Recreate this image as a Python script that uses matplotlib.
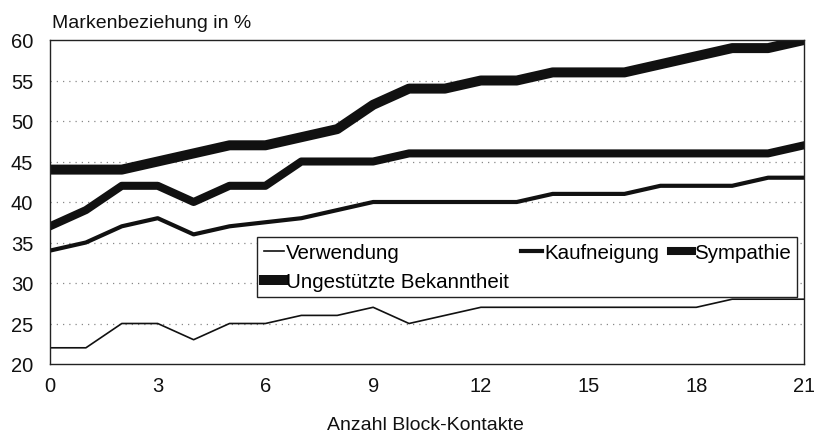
import matplotlib
matplotlib.use("Agg")
import matplotlib.pyplot as plt

plt.rcParams['font.family'] = ['Liberation Sans', 'DejaVu Sans']

kontakte = list(range(0, 22))
verwendung = [22, 22, 25, 25, 23, 25, 25, 26, 26, 27, 25, 26, 27, 27, 27, 27, 27, 27, 27, 28, 28, 28]
kaufneigung = [34, 35, 37, 38, 36, 37, 37.5, 38, 39, 40, 40, 40, 40, 40, 41, 41, 41, 42, 42, 42, 43, 43]
sympathie = [37, 39, 42, 42, 40, 42, 42, 45, 45, 45, 46, 46, 46, 46, 46, 46, 46, 46, 46, 46, 46, 47]
bekanntheit = [44, 44, 44, 45, 46, 47, 47, 48, 49, 52, 54, 54, 55, 55, 56, 56, 56, 57, 58, 59, 59, 60]

series_labels = ["Verwendung", "Kaufneigung", "Sympathie", "Ungestützte Bekanntheit"]
x_ticks = [0, 3, 6, 9, 12, 15, 18, 21]
y_ticks = [20, 25, 30, 35, 40, 45, 50, 55, 60]

fig = plt.figure(figsize=(8.14, 4.35), dpi=100)
ax = fig.add_axes([50/814, 70/435, 754/814, 324/435])

l1, = ax.plot(kontakte, verwendung, color='#111111', lw=1.2, solid_joinstyle='round')
l2, = ax.plot(kontakte, kaufneigung, color='#111111', lw=3.0, solid_joinstyle='round')
l3, = ax.plot(kontakte, sympathie, color='#111111', lw=5.8, solid_joinstyle='round')
l4, = ax.plot(kontakte, bekanntheit, color='#111111', lw=7.2, solid_joinstyle='round')

ax.set_xlim(0, 21)
ax.set_ylim(20, 60)
ax.set_xticks(x_ticks)
ax.set_yticks(y_ticks)
ax.tick_params(length=0, labelsize=14.5, colors='#111111')
ax.tick_params(axis='x', pad=8.5)
ax.tick_params(axis='y', pad=12)
for s in ax.spines.values():
    s.set_color('#222222')
    s.set_linewidth(1.0)
for yv in y_ticks[1:-1]:
    ax.axhline(yv, color='#888888', lw=0.9, ls=(0, (1, 4)), zorder=0)

leg = ax.legend([l1, l4, l2, l3],
                [series_labels[0], series_labels[3], series_labels[1], series_labels[2]],
                ncol=3, loc='upper left', bbox_to_anchor=(0.275, 0.393),
                borderaxespad=0, fontsize=14.8, handlelength=1.0, handletextpad=0.1,
                columnspacing=0.6, labelspacing=0.48, borderpad=0.3,
                fancybox=False, framealpha=1, edgecolor='#222222')
leg.get_frame().set_linewidth(1.0)

fig.text(52/814, 1 - 28/435, "Markenbeziehung in %", fontsize=14, va='baseline', ha='left', color='#111111')
fig.text(425/814, 1 - 430/435, "Anzahl Block-Kontakte", fontsize=14, va='baseline', ha='center', color='#111111')

fig.savefig("out.png", dpi=100)
